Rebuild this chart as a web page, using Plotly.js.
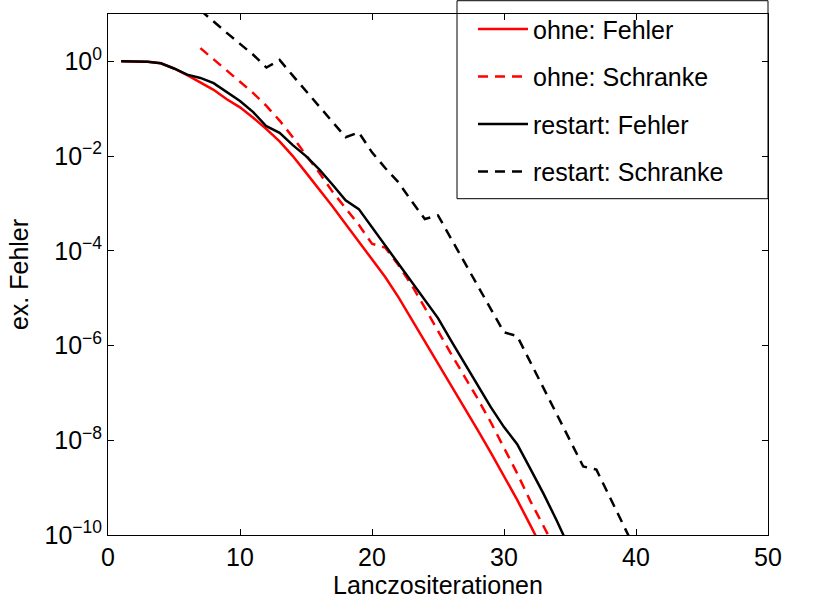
<!DOCTYPE html>
<html>
<head>
<meta charset="utf-8">
<script src="https://cdn.plot.ly/plotly-3.0.1.min.js"></script>
<style>html,body{margin:0;padding:0;background:#fff;}</style>
</head>
<body>
<div id="chart" style="width:817px;height:599px;"></div>
<script>
// Iterations (x) and error values
const iterOhneFehler = [1,2,3,4,5,6,7,8,9,10,11,12,13,14,15,16,17,18,19,20,21,22,23,24,25,26,27,28,29,30,31,32,33];
const ohneFehler = [1,1,0.977,0.912,0.708,0.513,0.363,0.251,0.158,0.107,0.0646,0.0372,0.0204,0.01,4.47e-3,2.0e-3,8.7e-4,3.7e-4,1.58e-4,6.6e-5,2.8e-5,1.05e-5,3.6e-6,1.26e-6,4.4e-7,1.5e-7,5.0e-8,1.66e-8,5.5e-9,1.8e-9,5.5e-10,1.6e-10,4.5e-11];

const iterOhneSchranke = [7,8,9,10,11,12,13,14,15,16,17,18,19,20,21,22,23,24,25,26,27,28,29,30,31,32,33,34];
const ohneSchranke = [1.9,1.12,0.646,0.372,0.214,0.115,0.0562,0.0251,0.0105,4.47e-3,1.78e-3,7.9e-4,3.55e-4,1.41e-4,1.17e-4,5.0e-5,1.9e-5,6.3e-6,2.0e-6,6.6e-7,2.24e-7,7.6e-8,2.4e-8,7.1e-9,2.0e-9,5.2e-10,1.6e-10,4.5e-11];

const iterRestartFehler = [1,2,3,4,5,6,7,8,9,10,11,12,13,14,15,16,17,18,19,20,21,22,23,24,25,26,27,28,29,30,31,32,33,34,35];
const restartFehler = [1,1,0.977,0.912,0.708,0.525,0.447,0.347,0.229,0.145,0.0851,0.0427,0.0309,0.017,0.01,5.25e-3,2.51e-3,1.17e-3,7.6e-4,3.16e-4,1.26e-4,5.25e-5,2.24e-5,8.9e-6,3.8e-6,1.26e-6,4.2e-7,1.41e-7,5.0e-8,1.9e-8,8.3e-9,2.5e-9,7.4e-10,2.0e-10,5.0e-11];

const iterRestartSchranke = [7,8,9,10,11,12,13,14,15,16,17,18,19,20,21,22,23,24,25,26,27,28,29,30,31,32,33,34,35,36,37,38,39,40];
const restartSchranke = [12,6.8,4.0,2.34,1.38,0.74,1.07,0.5,0.234,0.11,0.0525,0.0251,0.0316,0.012,5.6e-3,2.8e-3,1.12e-3,4.7e-4,5.6e-4,1.82e-4,5.75e-5,1.9e-5,6.0e-6,1.9e-6,1.58e-6,4.5e-7,1.26e-7,3.5e-8,1.0e-8,2.8e-9,2.4e-9,6.3e-10,1.7e-10,4.6e-11];

const seriesNames = ['ohne: Fehler','ohne: Schranke','restart: Fehler','restart: Schranke'];
const xTickVals = [0,10,20,30,40,50];
const yTickVals = [1e-10,1e-8,1e-6,1e-4,1e-2,1];
const yTickText = ['10<sup>\u221210</sup>','10<sup>\u22128</sup>','10<sup>\u22126</sup>','10<sup>\u22124</sup>','10<sup>\u22122</sup>','10<sup>0</sup>'];

const FONT = 'Liberation Sans, Arial, Helvetica, sans-serif';
const FS = 25;

const traces = [
  {x: iterOhneFehler, y: ohneFehler, name: seriesNames[0], legendgroup: 'a', mode: 'lines',
   line: {color: '#ff0000', width: 2.5}},
  {x: iterOhneSchranke, y: ohneSchranke, name: seriesNames[1], legendgroup: 'b', mode: 'lines',
   line: {color: '#ff0000', width: 2.5, dash: '10px,7px'}},
  {x: iterRestartFehler, y: restartFehler, name: seriesNames[2], legendgroup: 'c', mode: 'lines',
   line: {color: '#000000', width: 2.5}},
  {x: iterRestartSchranke, y: restartSchranke, name: seriesNames[3], legendgroup: 'd', mode: 'lines',
   line: {color: '#000000', width: 2.5, dash: '10px,7px'}}
];

const layout = {
  width: 817, height: 599,
  margin: {l: 108, r: 49, t: 14, b: 64, pad: 0, autoexpand: false},
  paper_bgcolor: '#ffffff', plot_bgcolor: '#ffffff',
  font: {family: FONT, size: FS, color: '#000000'},
  showlegend: true,
  legend: {
    x: 0.553, xanchor: 'left', y: 1.015, yanchor: 'top',
    bgcolor: 'rgba(0,0,0,0)', borderwidth: 0,
    font: {family: FONT, size: FS, color: '#000000'},
    tracegroupgap: 12, itemwidth: 50
  },
  shapes: [{
    type: 'rect', xref: 'paper', yref: 'paper', layer: 'above',
    x0: 0.5288, x1: 1.0, y0: 0.6455, y1: 1.0255,
    line: {color: '#000000', width: 1}, fillcolor: 'rgba(255,255,255,0)'
  }],
  xaxis: {
    range: [0, 50], tickvals: xTickVals, ticks: 'inside', ticklen: 6, tickcolor: '#000',
    showline: true, linecolor: '#000', linewidth: 1, mirror: 'ticks',
    showgrid: false, zeroline: false,
    tickfont: {family: FONT, size: FS},
    title: {text: 'Lanczositerationen', font: {family: FONT, size: FS}, standoff: 2}
  },
  yaxis: {
    type: 'log', range: [-10, 1], tickvals: yTickVals, ticktext: yTickText,
    ticks: 'inside', ticklen: 6, tickcolor: '#000',
    showline: true, linecolor: '#000', linewidth: 1, mirror: 'ticks',
    showgrid: false, zeroline: false,
    tickfont: {family: FONT, size: FS},
    title: {text: 'ex. Fehler', font: {family: FONT, size: FS}, standoff: 8}
  }
};

Plotly.newPlot('chart', traces, layout, {staticPlot: true, displayModeBar: false});
</script>
</body>
</html>
